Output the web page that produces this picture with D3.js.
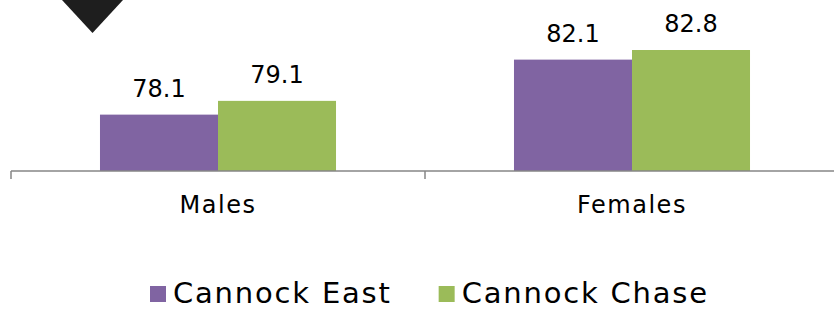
<!DOCTYPE html>
<html>
<head>
<meta charset="utf-8">
<script src="https://cdn.jsdelivr.net/npm/d3@7"></script>
<style>
  body { margin: 0; background: #fff; }
  text { font-family: "Century Gothic", "DejaVu Sans", sans-serif; fill: #000; }
</style>
</head>
<body>
<svg id="chart"></svg>
<script>
// data
const categories = ["Males", "Females"];
const seriesNames = ["Cannock East", "Cannock Chase"];
const cannockEast = [78.1, 82.1];
const cannockChase = [79.1, 82.8];
const seriesColors = ["#8064A2", "#9BBB59"];

const width = 834, height = 311;
const margin = { top: 33.5, left: 11, right: -5, bottom: 140 };

const svg = d3.select("#chart")
    .attr("width", width)
    .attr("height", height);

const rows = categories.map((c, i) => ({ cat: c, values: [cannockEast[i], cannockChase[i]] }));

let xScale = d3.scaleBand()
    .domain(categories)
    .range([margin.left, width - margin.right])
    .paddingInner(0)
    .paddingOuter(0);

let xSub = d3.scaleBand()
    .domain(seriesNames)
    .range([0, xScale.bandwidth()])
    .paddingInner(0)
    .paddingOuter(0.754);

let yScale = d3.scaleLinear()
    .domain([74, 84])
    .range([height - margin.bottom, margin.top]);

// decorative triangle top-left
svg.append("path")
    .attr("d", "M62,0 L123,0 L92.5,33 Z")
    .attr("fill", "#1e1e1e");

// bars
let groups = svg.selectAll("g.cat")
    .data(rows)
    .enter()
    .append("g")
    .attr("class", "cat")
    .attr("transform", d => `translate(${xScale(d.cat)},0)`);

groups.selectAll("rect")
    .data(d => d.values.map((v, j) => ({ name: seriesNames[j], value: v, j: j })))
    .enter()
    .append("rect")
    .attr("x", d => xSub(d.name))
    .attr("y", d => yScale(d.value))
    .attr("width", xSub.bandwidth())
    .attr("height", d => yScale(74) - yScale(d.value))
    .attr("fill", d => seriesColors[d.j]);

groups.selectAll("text.val")
    .data(d => d.values.map((v, j) => ({ name: seriesNames[j], value: v })))
    .enter()
    .append("text")
    .attr("class", "val")
    .attr("x", d => xSub(d.name) + xSub.bandwidth() / 2)
    .attr("y", d => yScale(d.value) - 18)
    .attr("text-anchor", "middle")
    .style("font-size", "24px")
    .text(d => d.value.toFixed(1));

// x axis
const xAxe = d3.axisBottom(xScale).tickSize(0).tickPadding(0);
let xAxis = svg.append("g")
    .attr("transform", `translate(0, ${yScale(74)})`)
    .call(xAxe);
xAxis.select(".domain").remove();
xAxis.selectAll(".tick text").remove();

xAxis.append("line")
    .attr("x1", margin.left)
    .attr("x2", width - margin.right)
    .attr("stroke", "#868686")
    .attr("stroke-width", 1.5);

xAxis.selectAll("line.sep")
    .data(categories.concat(["end"]))
    .enter()
    .append("line")
    .attr("class", "sep")
    .attr("x1", (d, i) => i < categories.length ? xScale(d) : xScale(categories[i - 1]) + xScale.bandwidth())
    .attr("x2", (d, i) => i < categories.length ? xScale(d) : xScale(categories[i - 1]) + xScale.bandwidth())
    .attr("y1", 0)
    .attr("y2", 8)
    .attr("stroke", "#868686")
    .attr("stroke-width", 1.5);

svg.selectAll("text.cat")
    .data(categories)
    .enter()
    .append("text")
    .attr("class", "cat")
    .attr("x", d => xScale(d) + xScale.bandwidth() / 2)
    .attr("y", 213)
    .attr("text-anchor", "middle")
    .style("font-size", "24px")
    .style("letter-spacing", "1.5px")
    .text(d => d);

// legend
let legend = svg.append("g").attr("class", "legend");
let lx = 150;
seriesNames.forEach((name, i) => {
    legend.append("rect")
        .attr("x", lx)
        .attr("y", 286)
        .attr("width", 16)
        .attr("height", 16)
        .attr("fill", seriesColors[i]);
    let t = legend.append("text")
        .attr("x", lx + 23)
        .attr("y", 303)
        .style("font-size", "29px")
        .style("letter-spacing", "1.8px")
        .text(name);
    lx = lx + 23 + t.node().getComputedTextLength() + 47;
});
</script>
</body>
</html>
